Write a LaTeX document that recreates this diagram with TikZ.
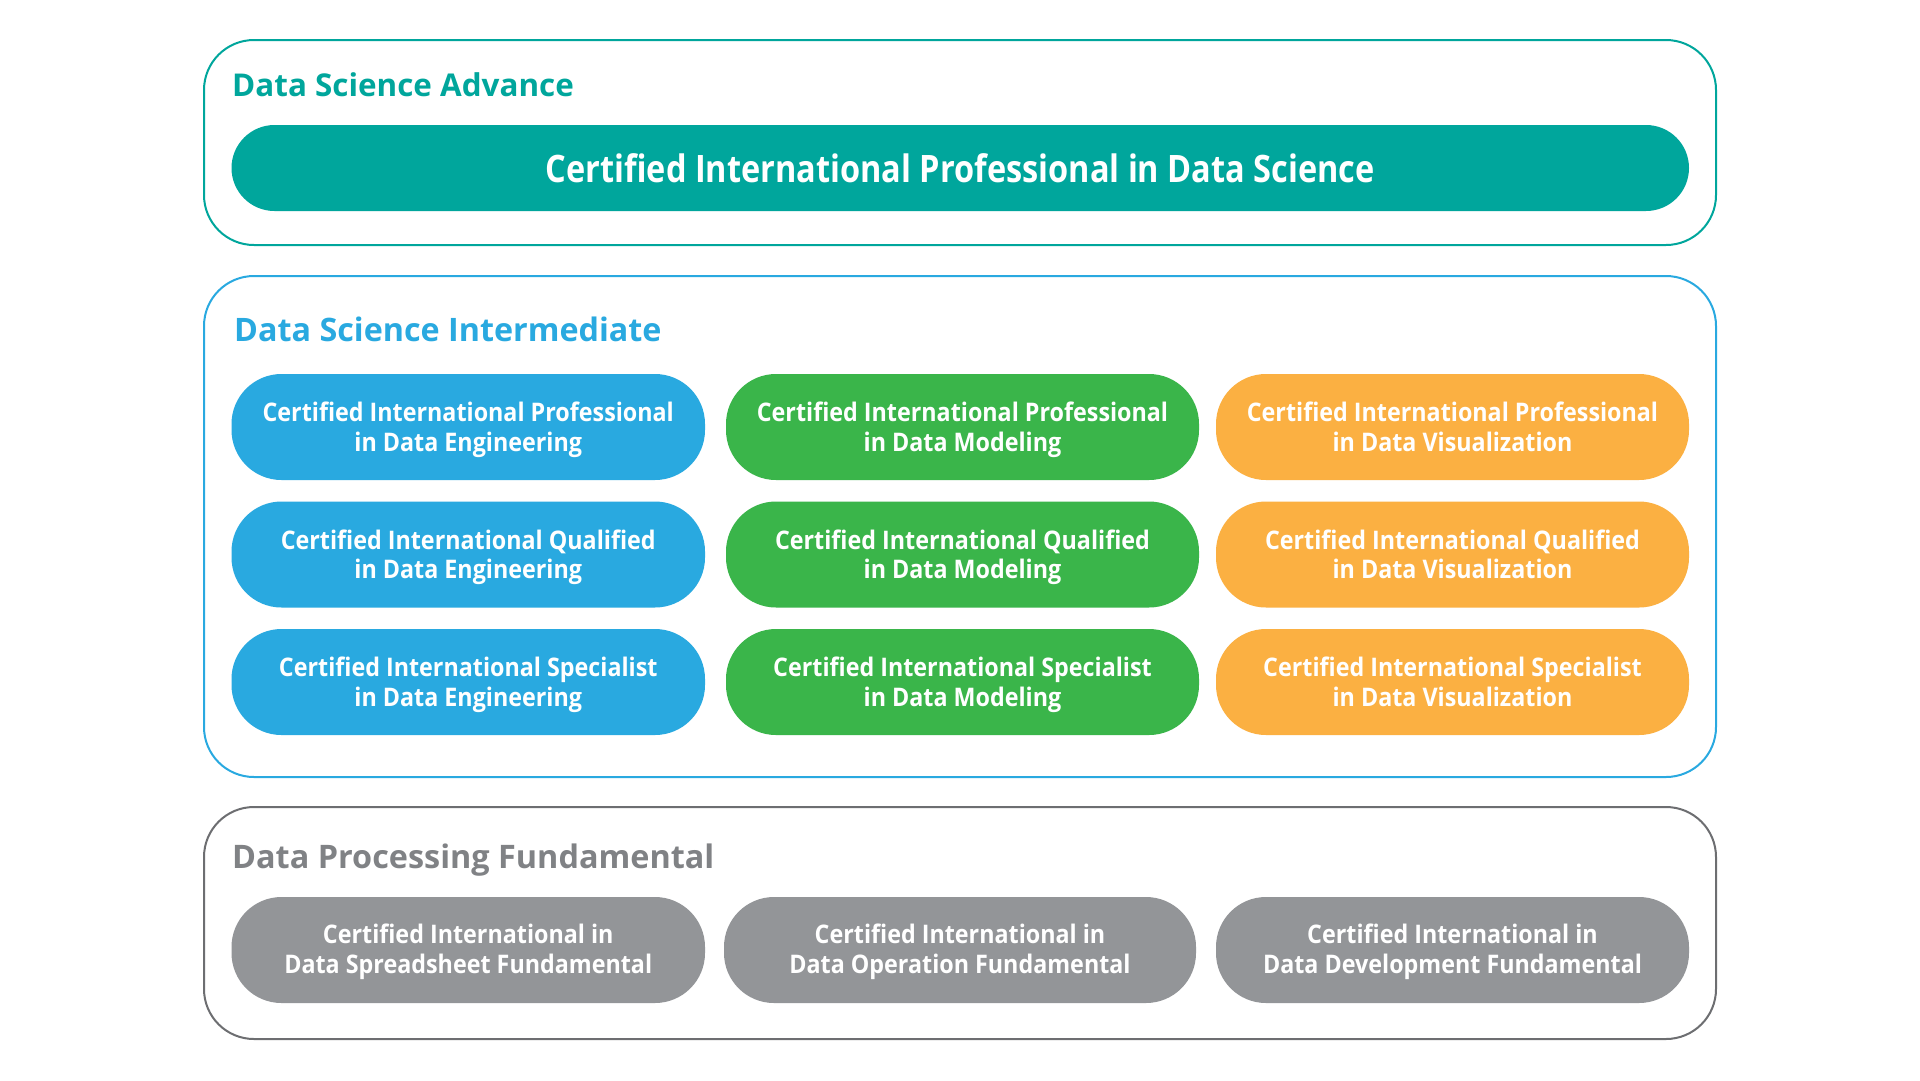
\documentclass[tikz,border=0pt]{standalone}
\usepackage{fontspec}
\setmainfont{Open Sans}
\newfontfamily\pillfont[FakeStretch=0.91]{Open Sans}
\newfontfamily\barfont[FakeStretch=0.86]{Open Sans}
\newcommand\pstrut{\rule{0pt}{24pt}}
\definecolor{cteal}{HTML}{00A69C}
\definecolor{cblue}{HTML}{29A9E0}
\definecolor{cgreen}{HTML}{3AB54A}
\definecolor{corange}{HTML}{FBB042}
\definecolor{cgray}{HTML}{939598}
\definecolor{cgraytitle}{HTML}{808285}
\definecolor{cgrayline}{HTML}{6D6E71}
\tikzset{
  frame/.style={draw=#1, line width=2pt, rounded corners=50pt, fill=white},
  ttl/.style={anchor=base west, text=#1, inner sep=0pt},
  pill/.style={fill=#1, draw=none, rounded corners=50pt, minimum height=106pt, inner sep=0pt},
  ptxt/.style={anchor=north, text=white, align=center, inner sep=0pt,
    font=\pillfont\fontsize{25.6}{29.5}\selectfont\bfseries},
  bigbar/.style={fill=cteal, draw=none, rounded corners=43pt, minimum height=86pt, minimum width=1457.5pt, text=white,
    inner sep=0pt, font=\barfont\fontsize{37.8}{40}\selectfont\bfseries}
}
\begin{document}
\begin{tikzpicture}[x=1pt,y=-1pt]
\useasboundingbox (0,0) rectangle (1920,1080);
% frames
\draw[frame=cteal] (204,40) rectangle (1716,245);
\draw[frame=cblue] (204,276) rectangle (1716,777);
\draw[frame=cgrayline] (204,807) rectangle (1716,1039);
% titles
\node[ttl=cteal, font=\fontsize{31.4}{36}\selectfont\bfseries] (tadv) at (232,96.7) {Data Science Advance};
\node[ttl=cblue, font=\fontsize{32.3}{36}\selectfont\bfseries] (tint) at (234,341.5) {Data Science Intermediate};
\node[ttl=cgraytitle, font=\fontsize{32.4}{36}\selectfont\bfseries] (tfun) at (232,868) {Data Processing Fundamental};
% advance
\node[bigbar] (cipds) at (960.25,168) {Certified International Professional in Data Science};
% intermediate grid
\node[pill=cblue, minimum width=473.5pt] (p11) at (468.25,427) {};
\node[pill=cgreen, minimum width=473pt] (p12) at (962.5,427) {};
\node[pill=corange, minimum width=473pt] (p13) at (1452.5,427) {};
\node[pill=cblue, minimum width=473.5pt] (p21) at (468.25,554.5) {};
\node[pill=cgreen, minimum width=473pt] (p22) at (962.5,554.5) {};
\node[pill=corange, minimum width=473pt] (p23) at (1452.5,554.5) {};
\node[pill=cblue, minimum width=473.5pt] (p31) at (468.25,682) {};
\node[pill=cgreen, minimum width=473pt] (p32) at (962.5,682) {};
\node[pill=corange, minimum width=473pt] (p33) at (1452.5,682) {};
\node[ptxt] (p11t) at ([yshift=29.3pt]p11.center) {\pstrut Certified International Professional\\in Data Engineering};
\node[ptxt] (p12t) at ([yshift=29.3pt]p12.center) {\pstrut Certified International Professional\\in Data Modeling};
\node[ptxt] (p13t) at ([yshift=29.3pt]p13.center) {\pstrut Certified International Professional\\in Data Visualization};
\node[ptxt] (p21t) at ([yshift=29.3pt]p21.center) {\pstrut Certified International Qualified\\in Data Engineering};
\node[ptxt] (p22t) at ([yshift=29.3pt]p22.center) {\pstrut Certified International Qualified\\in Data Modeling};
\node[ptxt] (p23t) at ([yshift=29.3pt]p23.center) {\pstrut Certified International Qualified\\in Data Visualization};
\node[ptxt] (p31t) at ([yshift=29.3pt]p31.center) {\pstrut Certified International Specialist\\in Data Engineering};
\node[ptxt] (p32t) at ([yshift=29.3pt]p32.center) {\pstrut Certified International Specialist\\in Data Modeling};
\node[ptxt] (p33t) at ([yshift=29.3pt]p33.center) {\pstrut Certified International Specialist\\in Data Visualization};
% fundamental
\node[pill=cgray, minimum width=473.5pt] (f1) at (468.25,950) {};
\node[pill=cgray, minimum width=472pt] (f2) at (960,950) {};
\node[pill=cgray, minimum width=473pt] (f3) at (1452.5,950) {};
\node[ptxt] (f1t) at ([yshift=30.7pt]f1.center) {\pstrut Certified International in\\Data Spreadsheet Fundamental};
\node[ptxt] (f2t) at ([yshift=30.7pt]f2.center) {\pstrut Certified International in\\Data Operation Fundamental};
\node[ptxt] (f3t) at ([yshift=30.7pt]f3.center) {\pstrut Certified International in\\Data Development Fundamental};
\end{tikzpicture}
\end{document}
